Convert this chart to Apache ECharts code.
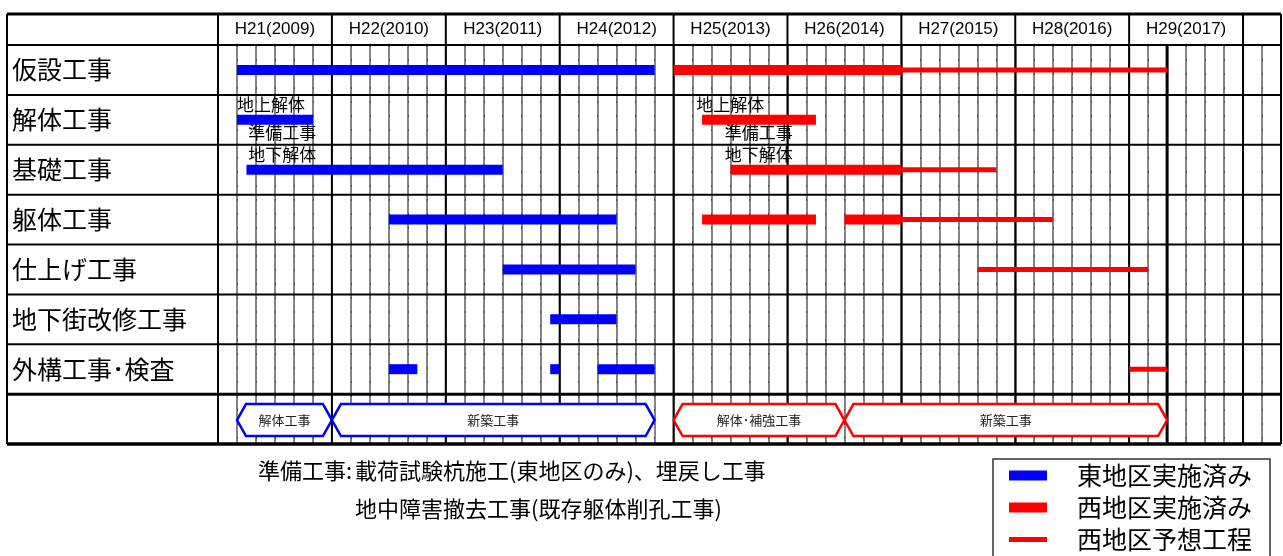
<!DOCTYPE html>
<html>
<head>
<meta charset="utf-8">
<title>工事工程表</title>
<style>html,body{margin:0;padding:0;background:#fff;}</style>
</head>
<body>
<div id="chartMain" style="width:1283px;height:556px;"></div>
<script src="https://cdn.jsdelivr.net/npm/echarts@6/dist/echarts.min.js"></script>
<script>
// 工程データ（月は H21 年度初めからの経過月数）
var taskNames = ['仮設工事', '解体工事', '基礎工事', '躯体工事', '仕上げ工事', '地下街改修工事', '外構工事･検査', ''];
var yearLabels = ['H21(2009)', 'H22(2010)', 'H23(2011)', 'H24(2012)', 'H25(2013)', 'H26(2014)', 'H27(2015)', 'H28(2016)', 'H29(2017)'];
var legendNames = ['東地区実施済み', '西地区実施済み', '西地区予想工程'];
// [行, 開始月, 終了月]
var eastDone = [[0, 2, 46], [1, 2, 10], [2, 3, 30], [3, 18, 42], [4, 30, 44], [5, 35, 42], [6, 18, 21], [6, 35, 36], [6, 40, 46]];
var westDone = [[0, 48, 72], [1, 51, 63], [2, 54, 72], [3, 51, 63], [3, 66, 72]];
var westPlan = [[0, 72, 100], [2, 72, 82], [3, 72, 88], [4, 80, 98], [6, 96, 100]];
// バー上の注記 [行, 月, 文字]
var barNotes = [[1, 2, '地上解体'], [2, 3.2, '準備工事\n地下解体'], [1, 50.4, '地上解体'], [2, 53.4, '準備工事\n地下解体']];
// 工事区分 [開始月, 終了月, 名称, 0:東 1:西]
var phases = [[2, 12, '解体工事', 0], [12, 46, '新築工事', 0], [48, 66, '解体･補強工事', 1], [66, 100, '新築工事', 1]];
var footNotes = ['準備工事:', '載荷試験杭施工(東地区のみ)、埋戻し工事', '地中障害撤去工事(既存躯体削孔工事)'];
var nowMonth = 100;
var totalMonths = 112;

var BLUE = '#0000ff', RED = '#ff0000';
var JP = '"Noto Sans CJK JP", sans-serif';
var LAT = '"Liberation Sans", Arial, sans-serif';

var myChart = echarts.init(document.getElementById('chartMain'));

function barRender(h) {
    return function (params, api) {
        var s = api.coord([api.value(1), api.value(0)]);
        var e = api.coord([api.value(2), api.value(0)]);
        return {
            type: 'rect',
            shape: {x: s[0], y: s[1] - h / 2, width: e[0] - s[0], height: h},
            style: {fill: api.visual('color')}
        };
    };
}

// 表の罫線
function frameRender(params, api) {
    var cs = params.coordSys;
    var band = api.size([0, 1])[1];
    var left = 7, top = 14;
    var right = cs.x + cs.width, bottom = cs.y + cs.height;
    var kids = [];
    function line(x1, y1, x2, y2, w) {
        kids.push({type: 'line', shape: {x1: x1, y1: y1, x2: x2, y2: y2}, style: {stroke: '#000', lineWidth: w}});
    }
    line(left, top, right, top, 3);
    var n = taskNames.length;
    for (var i = 0; i <= n; i++) {
        var y = cs.y + band * i;
        line(left, y, right, y, i == n ? 3.5 : (i == n - 1 ? 3 : 2));
    }
    line(left, top, left, bottom, 2);
    line(right, top, right, bottom, 2);
    for (var m = 0; m < totalMonths; m += 12) {
        var x = api.coord([m, 0])[0];
        line(x, top, x, bottom, 2);
    }
    var xn = api.coord([nowMonth, 0])[0];
    line(xn, cs.y, xn, bottom, 3);
    return {type: 'group', children: kids};
}

function noteRender(params, api) {
    var p = api.coord([api.value(0), api.value(1)]);
    return {
        type: 'text', x: p[0], y: p[1] - 4,
        style: {text: barNotes[params.dataIndex][2], fontSize: 17, fontFamily: JP, fill: '#000', verticalAlign: 'bottom', lineHeight: 22}
    };
}

function phaseRender(params, api) {
    var ph = phases[params.dataIndex];
    var row = taskNames.length - 1;
    var a = api.coord([api.value(0), row]);
    var b = api.coord([api.value(1), row]);
    var hh = 16, d = 9, yc = a[1] + 1;
    var col = ph[3] ? RED : BLUE;
    return {
        type: 'group',
        children: [{
            type: 'polygon',
            shape: {points: [[a[0], yc], [a[0] + d, yc - hh], [b[0] - d, yc - hh], [b[0], yc], [b[0] - d, yc + hh], [a[0] + d, yc + hh]]},
            style: {fill: '#fff', stroke: col, lineWidth: 2.5}
        }, {
            type: 'text', x: (a[0] + b[0]) / 2, y: yc,
            style: {text: ph[2], fontSize: 13, fontFamily: JP, fill: '#222', align: 'center', verticalAlign: 'middle'}
        }]
    };
}

var legendText = {fontSize: 25, fontFamily: JP, color: '#000', padding: [0, 0, 0, 25]};
var footFont = '22px ' + JP;

var option = {
    animation: false,
    grid: {left: 218, top: 45, right: 2, bottom: 112},
    xAxis: [{
        type: 'value', min: 0, max: totalMonths, interval: 2, position: 'bottom',
        axisLine: {show: false}, axisTick: {show: false}, axisLabel: {show: false},
        splitLine: {show: true, lineStyle: {color: '#858585', width: 2}}
    }, {
        type: 'value', min: 0, max: totalMonths, interval: 6, position: 'top',
        axisLine: {show: false}, axisTick: {show: false}, splitLine: {show: false},
        axisLabel: {
            margin: 7, fontSize: 17, fontFamily: LAT, color: '#000', showMaxLabel: false,
            formatter: function (v) { return v % 12 === 6 ? yearLabels[(v - 6) / 12] : ''; }
        }
    }, {
        // 月罫線の点線
        type: 'value', min: 0, max: totalMonths, interval: 2, position: 'bottom', offset: 0,
        axisLine: {show: false}, axisTick: {show: false}, axisLabel: {show: false},
        splitLine: {show: true, lineStyle: {color: '#4a4a4a', width: 1, type: [2, 12]}}
    }],
    yAxis: {
        type: 'category', data: taskNames, inverse: true,
        axisLine: {show: false}, axisTick: {show: false}, splitLine: {show: false},
        axisLabel: {align: 'left', margin: 206, fontSize: 25, fontFamily: JP, color: '#000'}
    },
    legend: [{
        data: [legendNames[0], legendNames[1]], orient: 'vertical', left: 1009, top: 463,
        itemWidth: 38, itemHeight: 10, itemGap: 7, padding: 0, icon: 'rect', selectedMode: false, textStyle: legendText
    }, {
        data: [legendNames[2]], orient: 'vertical', left: 1009, top: 527,
        itemWidth: 38, itemHeight: 5, padding: 0, icon: 'rect', selectedMode: false, textStyle: legendText
    }],
    graphic: [
        {type: 'rect', shape: {x: 993, y: 459, width: 277, height: 110}, style: {fill: 'none', stroke: '#333', lineWidth: 1.5}, z: 1},
        {type: 'text', x: 258, y: 471, style: {text: footNotes[0], font: footFont, fill: '#000', verticalAlign: 'middle'}},
        {type: 'text', x: 355, y: 471, style: {text: footNotes[1], font: footFont, fill: '#000', verticalAlign: 'middle'}},
        {type: 'text', x: 355, y: 509, style: {text: footNotes[2], font: footFont, fill: '#000', verticalAlign: 'middle'}}
    ],
    series: [{
        type: 'custom', name: 'frame', silent: true, clip: false, z: 1,
        renderItem: frameRender, data: [[0, 0]], encode: {x: 0, y: 1}
    }, {
        type: 'custom', name: legendNames[0], silent: true, z: 3, itemStyle: {color: BLUE},
        renderItem: barRender(10), data: eastDone, encode: {x: [1, 2], y: 0}
    }, {
        type: 'custom', name: legendNames[1], silent: true, z: 3, itemStyle: {color: RED},
        renderItem: barRender(10), data: westDone, encode: {x: [1, 2], y: 0}
    }, {
        type: 'custom', name: legendNames[2], silent: true, z: 3, itemStyle: {color: RED},
        renderItem: barRender(5), data: westPlan, encode: {x: [1, 2], y: 0}
    }, {
        type: 'custom', name: 'notes', silent: true, clip: false, z: 4,
        renderItem: noteRender, data: barNotes.map(function (n) { return [n[1], n[0]]; }), encode: {x: 0, y: 1}
    }, {
        type: 'custom', name: 'phases', silent: true, clip: false, z: 3,
        renderItem: phaseRender, data: phases.map(function (p) { return [p[0], p[1]]; }), encode: {x: [0, 1]}
    }]
};
myChart.setOption(option);
</script>
</body>
</html>
